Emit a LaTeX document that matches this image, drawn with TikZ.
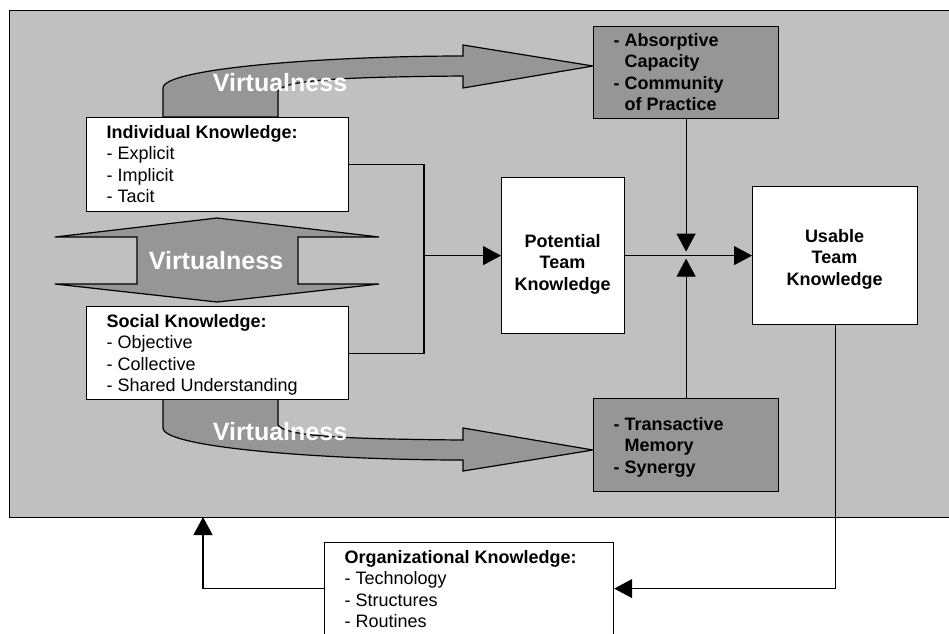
\documentclass[tikz,border=0pt]{standalone}
\usepackage{fontspec}
\setmainfont{Liberation Sans}
\usetikzlibrary{arrows.meta,calc}
\definecolor{panel}{RGB}{192,192,192}
\definecolor{shade}{RGB}{150,150,150}
% stacked lines with a fixed baseline distance; the box baseline is the first line
\newcommand\lstack[1]{\vtop{\baselineskip=21.5pt\lineskiplimit=-20pt\halign{##\hfil\cr#1\crcr}}}
\newcommand\cstack[1]{\vtop{\baselineskip=21.5pt\lineskiplimit=-20pt\halign{\hfil##\hfil\cr#1\crcr}}}
\begin{document}
\begin{tikzpicture}[x=1pt,y=-1pt,line width=1.2pt,
  box/.style={draw,inner sep=0pt,anchor=north west},
  txt/.style={inner sep=0pt,font=\fontsize{18}{21.5}\selectfont},
  btxt/.style={inner sep=0pt,font=\fontsize{18}{21.5}\selectfont\bfseries},
  vtxt/.style={inner sep=0pt,text=white,font=\fontsize{25}{30}\selectfont\bfseries},
  arr/.style={-{Triangle[length=18pt,width=19pt]}}]
\useasboundingbox (0,0) rectangle (949,633);
\clip (0,0) rectangle (949,633);

% shaded team area
\node[box,fill=panel,minimum width=960pt,minimum height=507pt] (frame) at (9,10) {};

% curved "virtualness" arrows
\draw[fill=shade] (163,117) -- (163,88) .. controls (163,68) and (330,56) .. (463,56)
  -- (463,45) -- (593,66) -- (463,88) -- (463,76)
  .. controls (340,77) and (285,80) .. (278,91) -- (278,117) -- cycle;
\draw[fill=shade] (163,399) -- (163,428) .. controls (163,448) and (330,460) .. (463,460)
  -- (463,471) -- (593,450) -- (463,428) -- (463,440)
  .. controls (340,439) and (285,436) .. (278,425) -- (278,399) -- cycle;

% double-headed vertical arrow
\draw[fill=shade] (217,218) -- (379,237) -- (298,237) -- (298,284) -- (379,284)
  -- (217,302) -- (55,284) -- (137,284) -- (137,237) -- (55,237) -- cycle;

% boxes
\node[box,fill=white,minimum width=262pt,minimum height=94pt] (ind) at (86,117) {};
\node[box,fill=white,minimum width=262pt,minimum height=93pt] (soc) at (86,306) {};
\node[box,fill=shade,minimum width=185pt,minimum height=92pt] (abs) at (593,26) {};
\node[box,fill=shade,minimum width=185pt,minimum height=93pt] (tra) at (593,398) {};
\node[box,fill=white,minimum width=123pt,minimum height=156pt] (pot) at (501,177) {};
\node[box,fill=white,minimum width=165pt,minimum height=138pt] (use) at (752,186) {};
\node[box,fill=white,minimum width=289pt,minimum height=92pt] (org) at (324,542) {};

% connectors
\coordinate (bus) at (424,0);
\draw (ind.east) -| (bus |- pot.west) |- (soc.east);
\draw[arr] (bus |- pot.west) -- (pot.west);
\coordinate (jn) at (abs.south |- pot.east);
\draw[arr] (pot.east) -- (use.west);
\draw[arr] (abs.south) -- ($(jn)+(0,-4)$);
\draw[arr] (tra.north) -- ($(jn)+(0,3)$);
\draw[arr] (use.south) |- (org.east);
\coordinate (back) at (203,517);
\draw[arr] (org.west) -| (back);

% labels
\node[vtxt,anchor=base] (v1) at (280,91) {Virtualness};
\node[vtxt,anchor=base] (v2) at (216,269) {Virtualness};
\node[vtxt,anchor=base] (v3) at (280,440) {Virtualness};

\node[txt,anchor=base west] (indt) at (106,138)
  {\lstack{\bfseries Individual Knowledge:\cr - Explicit\cr - Implicit\cr - Tacit}};
\node[txt,anchor=base west] (soct) at (106,327)
  {\lstack{\bfseries Social Knowledge:\cr - Objective\cr - Collective\cr - Shared Understanding}};
\node[btxt,anchor=base west] (abst) at (613,46)
  {\lstack{- Absorptive\cr\phantom{- }Capacity\cr - Community\cr\phantom{- }of Practice}};
\node[btxt,anchor=base west] (trat) at (613,430)
  {\lstack{- Transactive\cr\phantom{- }Memory\cr - Synergy}};
\node[btxt,anchor=base] (pott) at (562.5,247) {\cstack{Potential\cr Team\cr Knowledge}};
\node[btxt,anchor=base] (uset) at (834.5,242) {\cstack{Usable\cr Team\cr Knowledge}};
\node[txt,anchor=base west] (orgt) at (344,563)
  {\lstack{\bfseries Organizational Knowledge:\cr - Technology\cr - Structures\cr - Routines}};
\end{tikzpicture}
\end{document}
